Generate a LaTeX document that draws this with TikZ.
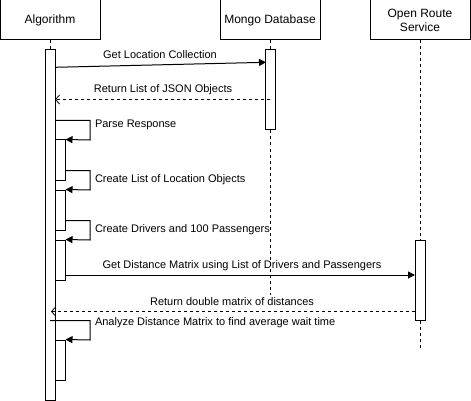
\documentclass[tikz,border=0pt]{standalone}
\usepackage{fontspec}
\setmainfont{Liberation Sans}
\usetikzlibrary{arrows.meta}
\begin{document}
\begin{tikzpicture}[x=1pt,y=-1pt,
  line width=1pt,
  head/.style={draw, fill=white, minimum width=100pt, minimum height=40pt, inner sep=0pt, align=center, font=\fontsize{12}{14}\selectfont},
  bar/.style={draw, fill=white, minimum width=10pt, inner sep=0pt},
  life/.style={dash pattern=on 3pt off 3pt},
  msg/.style={-{Triangle[length=7pt,width=7pt]}},
  ret/.style={dash pattern=on 3pt off 3pt, -{Straight Barb[length=4pt,width=9pt,line width=0.8pt]}},
  lbl/.style={inner sep=0pt, font=\fontsize{11}{13}\selectfont}
]
\useasboundingbox (0,0) rectangle (471,401);
% heads
\node[head] (alg) at (50,20) {Algorithm};
\node[head] (mongo) at (270,20) {Mongo Database};
\node[head] (ors) at (420,20) {Open Route\\Service};
% bars (geometry)
\node[bar, minimum height=350pt] (algbar) at (50,225) {};
\node[bar, minimum height=80pt] (mbar) at (270,90) {};
\node[bar, minimum height=80pt] (obar) at (420,280) {};
% lifelines
\coordinate (mend) at (270,295);
\coordinate (oend) at (420,349);
\draw[life] (alg.south) -- (algbar.north);
\draw[life] (mongo.south) -- (mbar.north);
\draw[life] (mbar.south) -- (mend);
\draw[life] (ors.south) -- (obar.north);
\draw[life] (obar.south) -- (oend);
% redraw bars on top
\node[bar, minimum height=350pt] at (50,225) {};
\node[bar, minimum height=80pt] at (270,90) {};
\node[bar, minimum height=80pt] at (420,280) {};
% nested activation bars
\node[bar, minimum height=40pt] (b1) at (60,160) {};
\node[bar, minimum height=40pt] (b2) at (60,210) {};
\node[bar, minimum height=40pt] (b3) at (60,260) {};
\node[bar, minimum height=40pt] (b4) at (60,360) {};
% message 1
\coordinate (m1s) at (55,67.3);
\coordinate (m1e) at (266,62.3);
\draw[msg] (m1s) -- (m1e);
\node[lbl] (l1) at (160,55) {Get Location Collection};
% return 1
\coordinate (r1s) at (270,99.5);
\coordinate (r1e) at (55,99.5);
\draw[ret] (r1s) -- (r1e);
\node[lbl] (l2) at (163,90) {Return List of JSON Objects};
% self call 1
\coordinate (s1) at (55,120.5);
\draw[msg] (s1) -- (90,120.5) -- (90,140) -- (b1.north east);
\node[lbl, anchor=west] (l3) at (94.5,125) {Parse Response};
% self call 2
\coordinate (s2) at (65,170.5);
\draw[msg] (s2) -- (90,170.5) -- (90,190) -- (b2.north east);
\node[lbl, anchor=west] (l4) at (94.5,180) {Create List of Location Objects};
% self call 3
\coordinate (s3) at (65,220.5);
\draw[msg] (s3) -- (90,220.5) -- (90,240) -- (b3.north east);
\node[lbl, anchor=west] (l5) at (94.5,230) {Create Drivers and 100 Passengers};
% message 2
\coordinate (m2s) at (65,275);
\coordinate (m2e) at (415,275);
\draw[msg] (m2s) -- (m2e);
\node[lbl] (l6) at (242,266) {Get Distance Matrix using List of Drivers and Passengers};
% return 2
\coordinate (r2s) at (415,311.5);
\coordinate (r2e) at (51,311.5);
\draw[ret] (r2s) -- (r2e);
\node[lbl] (l7) at (232,301.5) {Return double matrix of distances};
% self call 4
\coordinate (s4) at (50,320.5);
\draw[msg] (s4) -- (90,320.5) -- (90,340) -- (b4.north east);
\node[lbl, anchor=west] (l8) at (94.5,323) {Analyze Distance Matrix to find average wait time};
\end{tikzpicture}
\end{document}
